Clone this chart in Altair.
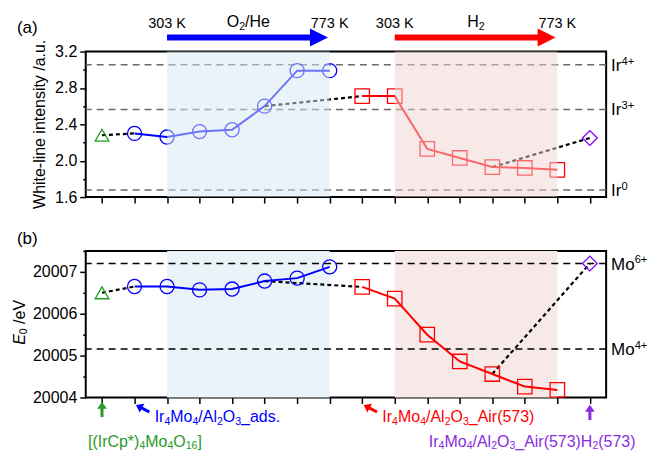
import altair as alt
import pandas as pd

# ---------------- data ----------------
idx = list(range(16))
white_line = [2.28, 2.30, 2.26, 2.32, 2.34, 2.60, 2.99, 2.99,
              2.71, 2.71, 2.13, 2.03, 1.93, 1.92, 1.90, 2.25]
e0 = [20006.50, 20006.65, 20006.65, 20006.57, 20006.59, 20006.78, 20006.85, 20007.12,
      20006.64, 20006.36, 20005.50, 20004.86, 20004.56, 20004.26, 20004.18, 20007.20]
groups = ["pre"] + ["ads"] * 7 + ["air"] * 7 + ["h2"]
group_names = ["pre", "ads", "air", "h2"]
group_colors = ["#1f9e1f", "#0000ff", "#ff0000", "#8000ff"]
group_shapes = ["triangle-up", "circle", "square", "diamond"]
group_sizes = [190, 220, 165, 260]
dash_pairs = [[0, 1], [5, 8], [12, 15]]

ir_levels = [3.054, 2.564, 1.677]
ir_labels = [[("Ir", 0), ("4+", 2)], [("Ir", 0), ("3+", 2)], [("Ir", 0), ("0", 2)]]
mo_levels = [20007.2, 20005.16]
mo_labels = [[("Mo", 0), ("6+", 2)], [("Mo", 0), ("4+", 2)]]

wl_ticks = [1.6, 1.8, 2.0, 2.2, 2.4, 2.6, 2.8, 3.0, 3.2]
e0_ticks = [20004, 20004.5, 20005, 20005.5, 20006, 20006.5, 20007, 20007.5]

shade_start = [2, 9]
shade_end = [7, 14]
shade_bg = ["#eaf3f7", "#f8e9e9"]
shade_overlay = ["#d5e7ef", "#f1d3d3"]

arrow_start = [2, 9]
arrow_end = [6.7, 13.7]
arrow_head = [6.67, 13.67]
arrow_colors = ["#0000ff", "#ff0000"]
temp_x = [2, 7, 9, 14]
temp_text = ["303 K", "773 K", "303 K", "773 K"]
gas_x = [4.5, 11.5]
gas_labels = [[("O", 0), ("2", 1), ("/He", 0)], [("H", 0), ("2", 1)]]

sample_arrow_x = [0, 1.25, 8.25, 15]
sample_arrow_y = [159, 158, 158, 162]
sample_arrow_angle = [0, 298, 298, 0]
sample_label_x = [-0.43, 1.62, 8.62, 10.05]
sample_label_y = [191, 166, 166, 191]
sample_labels = [
    [("[(IrCp*)", 0), ("4", 1), ("Mo", 0), ("4", 1), ("O", 0), ("16", 1), ("]", 0)],
    [("Ir", 0), ("4", 1), ("Mo", 0), ("4", 1), ("/Al", 0), ("2", 1), ("O", 0), ("3", 1), ("_ads.", 0)],
    [("Ir", 0), ("4", 1), ("Mo", 0), ("4", 1), ("/Al", 0), ("2", 1), ("O", 0), ("3", 1), ("_Air(573)", 0)],
    [("Ir", 0), ("4", 1), ("Mo", 0), ("4", 1), ("/Al", 0), ("2", 1), ("O", 0), ("3", 1),
     ("_Air(573)H", 0), ("2", 1), ("(573)", 0)],
]
sample_colors = ["#2a9a2a", "#0000ff", "#ff0000", "#8a2be2"]

W = 522
H_TOP = 146
H_BOT = 147
FONT = "Liberation Sans"

ARROW_UP = "M0,-1L0.65,-0.1L0.2,-0.1L0.2,1L-0.2,1L-0.2,-0.1L-0.65,-0.1Z"
HEAD = "M-1,-1L1,0L-1,1Z"

# Arial / Liberation Sans advance widths (per 1000 em)
AW = {" ": 278, "(": 333, ")": 333, "*": 389, ".": 278, "/": 278, "_": 556, "[": 278, "]": 278,
      "+": 584, "A": 667, "C": 722, "E": 667, "H": 722, "I": 278, "K": 667, "M": 833, "O": 778,
      "V": 667, "a": 556, "d": 556, "e": 556, "i": 222, "l": 222, "o": 556, "p": 556, "r": 333,
      "s": 500}


def tw(s, fs):
    return sum(AW.get(ch, 556) for ch in s) * fs / 1000.0


def rich(segs, x, yc, fs, color, align="left", start=0.0):
    """Lay out text segments (0 normal, 1 subscript, 2 superscript) as rows."""
    sfs = round(fs * 0.66, 1)
    base = yc + 0.716 * fs / 2
    widths = [tw(t, sfs if k else fs) for t, k in segs]
    off = start - (sum(widths) / 2 if align == "center" else 0)
    rows = []
    for (t, k), w in zip(segs, widths):
        if k == 0:
            yy, f = base, fs
        elif k == 1:
            yy, f = base + 0.15 * fs, sfs
        else:
            yy, f = base - 0.36 * fs, sfs
        rows.append({"x": x, "off": off, "yy": yy, "t": t, "fs": f, "c": color})
        off += w
    return rows


# ---------------- shared encodings ----------------
xscale = alt.Scale(domain=[-0.5, 15.5], nice=False, zero=False)
xaxis = alt.Axis(values=idx, labels=False, title=None, tickSize=6, domain=False, grid=False)
X = alt.X("x:Q", scale=xscale, axis=xaxis)
X2 = alt.X2("x2:Q")

gcolor = alt.Color("g:N", scale=alt.Scale(domain=group_names, range=group_colors), legend=None)
gshape = alt.Shape("g:N", scale=alt.Scale(domain=group_names, range=group_shapes), legend=None)
gsize = alt.Size("g:N", scale=alt.Scale(domain=group_names, range=group_sizes), legend=None)


def rich_layer(rows, y_enc, dy=None):
    df = pd.DataFrame(rows)
    kw = {"dx": alt.expr("datum.off")}
    if dy is not None:
        kw["dy"] = alt.expr(dy)
    return alt.Chart(df).mark_text(align="left", baseline="alphabetic", font=FONT, **kw).encode(
        x=X, y=y_enc, text="t:N",
        size=alt.Size("fs:Q", scale=None, legend=None), color=alt.Color("c:N", scale=None))


def panel(vals, ydom, yticks, major_test, lab_expr, levels, level_labels, hline_color, overlay,
          height, plabel, plabel_y):
    Y = alt.Y("v:Q", scale=alt.Scale(domain=ydom, nice=False, zero=False),
              axis=alt.Axis(values=yticks, title=None, grid=False, domain=False,
                            tickSize={"condition": {"test": major_test, "value": 6}, "value": 3},
                            labelExpr=lab_expr))
    df = pd.DataFrame({"x": idx, "v": vals, "g": groups})
    conn = pd.DataFrame({
        "x": [idx[i] for p in dash_pairs for i in p],
        "v": [vals[i] for p in dash_pairs for i in p],
        "pair": [k for k, p in enumerate(dash_pairs) for _ in p],
    })
    hl = pd.DataFrame({"v": levels})
    cols = shade_overlay if overlay else shade_bg
    shade = pd.DataFrame({"x": shade_start, "x2": shade_end, "c": cols})

    hline = alt.Chart(hl).mark_rule(strokeDash=[7, 5], strokeWidth=1.5, color=hline_color).encode(y=Y)
    conn_l = alt.Chart(conn).mark_line(strokeDash=[4, 3], strokeWidth=2.2, color="black").encode(
        x=X, y=Y, detail="pair:N")
    lines = alt.Chart(df[df.g.isin(["ads", "air"])]).mark_line(strokeWidth=2).encode(
        x=X, y=Y, color=gcolor, detail="g:N")
    pts = alt.Chart(df).mark_point(filled=False, strokeWidth=1.3, opacity=1).encode(
        x=X, y=Y, color=gcolor, shape=gshape, size=gsize)
    shade_l = alt.Chart(shade).mark_rect(opacity=0.5 if overlay else 1).encode(
        x=X, x2=X2, y=alt.value(0), y2=alt.value(height), color=alt.Color("c:N", scale=None))

    # right-hand oxidation-state labels, anchored on the y scale
    rrows = []
    for lev, segs in zip(levels, level_labels):
        for r in rich(segs, 15.5, 0, 17, "black", start=5):
            r["v"] = lev
            rrows.append(r)
    right = rich_layer(rrows, Y, dy="datum.yy")
    pl = alt.Chart(pd.DataFrame({"t": [plabel]})).mark_text(
        align="left", baseline="middle", fontSize=17, font=FONT).encode(
        x=alt.value(-69), y=alt.value(plabel_y), text="t:N")
    if overlay:
        layers = [hline, conn_l, lines, pts, shade_l, right, pl]
    else:
        layers = [shade_l, hline, conn_l, lines, pts, right, pl]
    return layers


top_layers = panel(white_line, [1.6, 3.2], wl_ticks,
                   "round(datum.value*10) % 4 == 0",
                   "round(datum.value*10) % 4 == 0 ? format(datum.value, '.1f') : ''",
                   ir_levels, ir_labels, "#6a6a6a", True, H_TOP, "(a)", -24)

# top arrows + labels
arr = pd.DataFrame({"x": arrow_start, "x2": arrow_end, "c": arrow_colors})
heads = pd.DataFrame({"x": arrow_head, "c": arrow_colors})
temps = pd.DataFrame({"x": temp_x, "t": temp_text})
gas_rows = []
for gx, segs in zip(gas_x, gas_labels):
    gas_rows += rich(segs, gx, -30, 16, "black", align="center")
top_layers += [
    alt.Chart(arr).mark_rule(strokeWidth=6).encode(
        x=X, x2=X2, y=alt.value(-14), color=alt.Color("c:N", scale=None)),
    alt.Chart(heads).mark_point(shape=HEAD, filled=True, size=324, opacity=1).encode(
        x=X, y=alt.value(-14), color=alt.Color("c:N", scale=None)),
    alt.Chart(temps).mark_text(baseline="middle", align="center", fontSize=14.5, font=FONT).encode(
        x=X, y=alt.value(-28), text="t:N"),
    rich_layer(gas_rows, alt.Y("yy:Q", scale=None)),
    alt.Chart(pd.DataFrame({"t": ["White-line intensity /a.u."]})).mark_text(
        angle=270, align="center", baseline="middle", fontSize=16, font=FONT).encode(
        x=alt.value(-46), y=alt.value(H_TOP / 2), text="t:N"),
]

bot_layers = panel(e0, [20004, 20007.5], e0_ticks,
                   "round(datum.value*2) % 2 == 0",
                   "round(datum.value*2) % 2 == 0 ? format(datum.value, 'd') : ''",
                   mo_levels, mo_labels, "black", False, H_BOT, "(b)", -12)

sarr = pd.DataFrame({"x": sample_arrow_x, "yy": sample_arrow_y, "ang": sample_arrow_angle,
                     "c": sample_colors})
lab_rows = []
for lx, ly, segs, col in zip(sample_label_x, sample_label_y, sample_labels, sample_colors):
    lab_rows += rich(segs, lx, ly, 16, col)

bot_layers += [
    alt.Chart(sarr).mark_point(shape=ARROW_UP, filled=True, size=230, opacity=1).encode(
        x=X, y=alt.Y("yy:Q", scale=None), angle=alt.Angle("ang:Q", scale=None),
        color=alt.Color("c:N", scale=None)),
    rich_layer(lab_rows, alt.Y("yy:Q", scale=None)),
    # rotated y title: italic E, subscript 0, " /eV"
    alt.Chart(pd.DataFrame({"t": ["E"]})).mark_text(
        angle=270, align="left", baseline="middle", fontSize=16, font=FONT, fontStyle="italic").encode(
        x=alt.value(-66), y=alt.value(94), text="t:N"),
    alt.Chart(pd.DataFrame({"t": ["0"]})).mark_text(
        angle=270, align="left", baseline="middle", fontSize=10.5, font=FONT).encode(
        x=alt.value(-62), y=alt.value(83.5), text="t:N"),
    alt.Chart(pd.DataFrame({"t": ["/eV"]})).mark_text(
        angle=270, align="left", baseline="middle", fontSize=16, font=FONT).encode(
        x=alt.value(-66), y=alt.value(73.2), text="t:N"),
]

top = alt.layer(*top_layers).properties(width=W, height=H_TOP)
bot = alt.layer(*bot_layers).properties(width=W, height=H_BOT)

chart = alt.vconcat(top, bot, spacing=19).properties(
    padding={"left": 11, "top": 12, "right": 0, "bottom": 0}
).configure_view(stroke="black", strokeWidth=2).configure_axis(
    labelFont=FONT, labelFontSize=16, labelColor="black", tickColor="black",
    tickWidth=1.5, labelPadding=3
).configure_text(font=FONT)

chart.save("out.html", embed_options={"renderer": "svg", "actions": False})
